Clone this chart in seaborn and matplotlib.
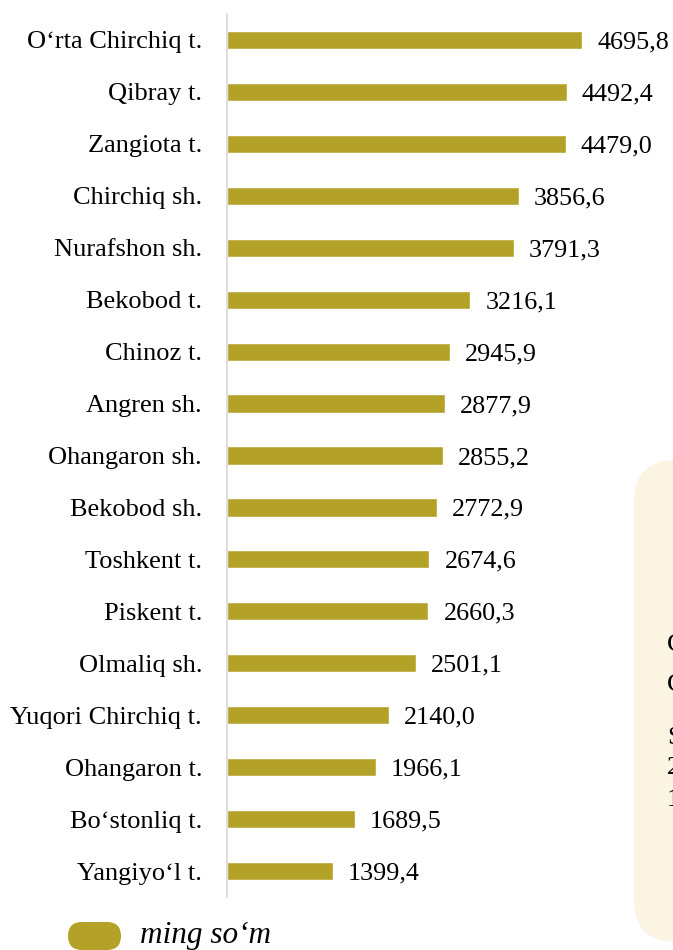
import matplotlib
matplotlib.use("Agg")
import matplotlib.pyplot as plt
import seaborn as sns
import pandas as pd
from matplotlib.patches import FancyBboxPatch
from matplotlib.transforms import IdentityTransform

districts = ["O‘rta Chirchiq t.", "Qibray t.", "Zangiota t.", "Chirchiq sh.",
             "Nurafshon sh.", "Bekobod t.", "Chinoz t.", "Angren sh.",
             "Ohangaron sh.", "Bekobod sh.", "Toshkent t.", "Piskent t.",
             "Olmaliq sh.", "Yuqori Chirchiq t.", "Ohangaron t.",
             "Bo‘stonliq t.", "Yangiyo‘l t."]
values = [4695.8, 4492.4, 4479.0, 3856.6, 3791.3, 3216.1, 2945.9, 2877.9,
          2855.2, 2772.9, 2674.6, 2660.3, 2501.1, 2140.0, 1966.1, 1689.5, 1399.4]
legend_label = "ming so‘m"
side_letters = ["C", "C", "S", "2", "1"]

BAR_COLOR = "#B4A228"
FONT = "Liberation Serif"

df = pd.DataFrame({"district": districts, "value": values})

sns.set_style("white")
plt.rcParams["font.family"] = [FONT, "DejaVu Serif"]
plt.rcParams["text.color"] = "black"
plt.rcParams["ytick.color"] = "black"

fig = plt.figure(figsize=(6.73, 9.5), dpi=100)

# cream panel on the right edge (partly cut off, as in the source page)
panel = FancyBboxPatch((634, 8), 120, 482, boxstyle="round,pad=0,rounding_size=42",
                       transform=IdentityTransform(), facecolor="#FBF4E3",
                       edgecolor="none", zorder=0)
fig.patches.append(panel)
for letter, ypix in zip(side_letters, [645, 685, 738, 768, 800]):
    fig.text(667 / 673, 1 - ypix / 950, letter, fontsize=19, va="center",
             ha="left", color="black")

ax = fig.add_axes([227 / 673, 1 - 897 / 950, 1 - 227 / 673, (897 - 14) / 950])
ax.patch.set_alpha(0)
sns.barplot(data=df, x="value", y="district", orient="h", color=BAR_COLOR,
            saturation=1, width=0.35, ax=ax)

ax.set_xlim(0, (673 - 227) / ((582 - 227) / 4695.8))
ax.set_ylim(16.5, -0.5)
ax.set_xlabel("")
ax.set_ylabel("")
ax.set_xticks([])
for s in ["top", "right", "bottom"]:
    ax.spines[s].set_visible(False)
ax.spines["left"].set_color("#D9D9D9")
ax.spines["left"].set_linewidth(1.2)
ax.tick_params(axis="y", length=0, pad=18, labelsize=19, labelcolor="black")

for container in ax.containers:
    labels = ax.bar_label(container, labels=[f"{v:.1f}".replace(".", ",") for v in values],
                          padding=11, fontsize=18.8, color="black")
    for t in labels:
        t.set_va("center_baseline")

# legend
pill = FancyBboxPatch((68, 0), 53, 28, boxstyle="round,pad=0,rounding_size=14",
                      transform=IdentityTransform(), facecolor=BAR_COLOR,
                      edgecolor="none")
fig.patches.append(pill)
fig.text(140 / 673, 1 - 936 / 950, legend_label, fontsize=22.5, style="italic",
         va="center", ha="left", color="black")

fig.savefig("out.png", dpi=100)
